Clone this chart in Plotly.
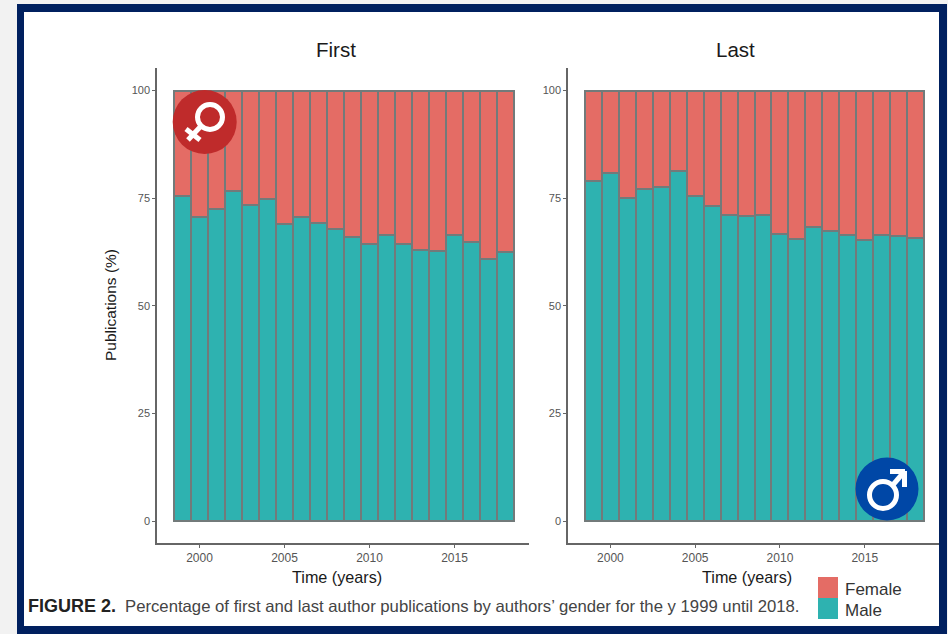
import plotly.graph_objects as go

years = list(range(1999, 2019))
first_male = [75.6, 70.6, 72.5, 76.7, 73.5, 74.9, 69.1, 70.6, 69.2, 67.9,
              65.9, 64.3, 66.5, 64.3, 62.9, 62.8, 66.4, 64.9, 60.8, 62.6]
last_male = [79.0, 80.9, 75.0, 77.2, 77.7, 81.4, 75.6, 73.2, 71.0, 70.8,
             71.1, 66.8, 65.5, 68.3, 67.4, 66.5, 65.3, 66.4, 66.2, 65.7]
first_female = [round(100 - v, 1) for v in first_male]
last_female = [round(100 - v, 1) for v in last_male]
x_ticks = [2000, 2005, 2010, 2015]
y_ticks = [0, 25, 50, 75, 100]

W, H = 948, 634
RED, TEAL, EDGE = "#e46c65", "#2eb2b0", "#727a7a"
FONT = "Liberation Sans"


def px(x):
    return x / W


def py(y):
    return 1 - y / H


def rect(x0, y0, x1, y1, fill, layer="below"):
    return dict(type="rect", xref="paper", yref="paper", x0=px(x0), x1=px(x1), y0=py(y0), y1=py(y1),
                fillcolor=fill, line_width=0, layer=layer)


def circ(cx, cy, r, fill="rgba(0,0,0,0)", lw=0, lc="white"):
    return dict(type="circle", xref="paper", yref="paper", x0=px(cx - r), x1=px(cx + r), y0=py(cy + r), y1=py(cy - r),
                fillcolor=fill, line=dict(width=lw, color=lc), layer="above")


def seg(x0, y0, x1, y1, lw=5):
    return dict(type="line", xref="paper", yref="paper", x0=px(x0), x1=px(x1), y0=py(y0), y1=py(y1),
                line=dict(width=lw, color="white"), layer="above")


def text(x, y, s, size, color="#1a1a1a", anchor="center", angle=0):
    return dict(xref="paper", yref="paper", x=px(x), y=py(y), text=s, showarrow=False, textangle=angle,
                xanchor=anchor, yanchor="middle", font=dict(size=size, color=color, family=FONT))


fig = go.Figure()
for xa, ya, male, female in (("x", "y", first_male, first_female),
                             ("x2", "y2", last_male, last_female)):
    fig.add_bar(x=years, y=male, name="Male", xaxis=xa, yaxis=ya, width=1, showlegend=False,
                marker=dict(color=TEAL, line=dict(color=EDGE, width=2)))
    fig.add_bar(x=years, y=female, name="Female", xaxis=xa, yaxis=ya, width=1, showlegend=False,
                marker=dict(color=RED, line=dict(color=EDGE, width=2)))

axis_common = dict(showgrid=False, zeroline=False, showline=True, linecolor="#666666", linewidth=1.5,
                   ticks="outside", ticklen=3, tickcolor="#666666", tickwidth=1)
xcommon = dict(axis_common, range=[1997.5, 2019.38], tickvals=x_ticks,
               tickfont=dict(size=12, color="#555555", family=FONT))
ycommon = dict(axis_common, range=[-5.1, 105.25], tickvals=y_ticks,
               tickfont=dict(size=11, color="#555555", family=FONT))

fig.update_layout(
    width=W, height=H, margin=dict(l=0, r=0, t=0, b=0), autosize=False,
    barmode="stack", bargap=0, showlegend=False,
    paper_bgcolor="#f2f2f2", plot_bgcolor="rgba(0,0,0,0)",
    xaxis=dict(xcommon, domain=[px(157), px(529)], anchor="y"),
    yaxis=dict(ycommon, domain=[py(543), py(68)], anchor="x"),
    xaxis2=dict(xcommon, domain=[px(568), px(939)], anchor="y2"),
    yaxis2=dict(ycommon, domain=[py(543), py(68)], anchor="x2"),
    shapes=[
        rect(17, 4, W - 1, H, "#00205f"),
        rect(24, 12, 939, 626, "white"),
        rect(818, 577, 838, 598, RED, "above"),
        rect(818, 598, 838, 619, TEAL, "above"),
        circ(204.7, 122, 32, "#bf2b2b"),
        circ(210, 117, 12.5, lw=5),
        seg(201, 126, 188, 140),
        seg(186, 129, 200, 140),
        circ(887, 489, 31.5, "#0047a6"),
        circ(883, 495, 13.5, lw=5),
        seg(892, 486, 904, 472),
        seg(890, 471.5, 905, 471.5),
        seg(904.5, 471, 904.5, 487),
    ],
    annotations=[
        text(336, 50, "First", 20.5),
        text(735, 50, "Last", 20.5),
        text(336.5, 577, "Time (years)", 16.2),
        text(746.5, 577, "Time (years)", 16.2),
        text(110, 305, "Publications (%)", 15.5, angle=-90),
        text(26, 606, "<b>FIGURE 2.</b>", 18, "#222222", "left"),
        text(123, 606, "Percentage of first and last author publications by authors’ gender for the y 1999 until 2018.",
             16.72, "#444444", "left"),
        text(843, 589, "Female", 17, "#333333", "left"),
        text(843, 610, "Male", 17, "#333333", "left"),
    ],
)

fig.write_html("out.html", config={"displayModeBar": False},
               post_script="document.body.style.margin='0';document.documentElement.style.overflow='hidden';")
